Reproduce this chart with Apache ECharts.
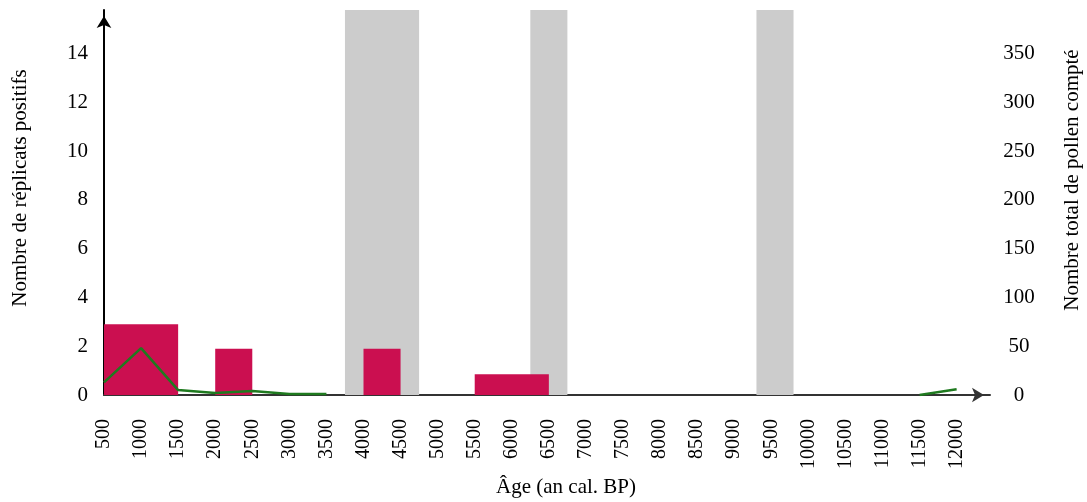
<!DOCTYPE html>
<html>
<head>
<meta charset="utf-8">
<script src="https://cdn.jsdelivr.net/npm/echarts@6/dist/echarts.min.js"></script>
<style>
html,body{margin:0;padding:0;background:#fff;}
#chart{width:1087px;height:502px;}
</style>
</head>
<body>
<div id="chart"></div>
<script>
// ---- data ----
var xTickLabels = ['500','1000','1500','2000','2500','3000','3500','4000','4500','5000','5500','6000','6500','7000','7500','8000','8500','9000','9500','10000','10500','11000','11500','12000'];
var leftTickLabels = ['0','2','4','6','8','10','12','14'];
var rightTickLabels = ['0','50','100','150','200','250','300','350'];

// positive replicates (bars spanning an age interval)
var barStart = [500, 2000, 4000, 5500];
var barEnd   = [1500, 2500, 4500, 6500];
var barValues = [2.9, 1.9, 1.9, 0.85];

// grey shaded periods
var bandStart = [3750, 6250, 9300];
var bandEnd   = [4750, 6750, 9800];

// total pollen counted
var pollenAges   = [500, 1000, 1500, 2000, 2500, 3000, 3500, 11500, 12000];
var pollenCounts = [13, 48, 5, 2, 4, 1, 1, 0, 6];

var leftMax = 15.78;
var rightMax = leftMax * 25;
var xMax = 12450;

// ---- build ----
var font = 'Liberation Serif';
var barData = barStart.map(function (s, i) { return [s, barEnd[i], barValues[i]]; });
var bandData = bandStart.map(function (s, i) { return [s, bandEnd[i]]; });
var lineData = [];
pollenAges.forEach(function (a, i) {
  if (i > 0 && a - pollenAges[i - 1] > 500) lineData.push([null, null]);
  lineData.push([a, pollenCounts[i]]);
});

var chart = echarts.init(document.getElementById('chart'), null, {renderer: 'canvas'});
chart.setOption({
  backgroundColor: '#ffffff',
  animation: false,
  grid: {left: 104, right: 97, top: 10, bottom: 107},
  xAxis: {
    type: 'value', min: 500, max: xMax, interval: 500,
    splitLine: {show: false},
    axisTick: {show: false},
    axisLine: {show: true, symbol: ['none', 'arrow'], symbolSize: [11, 12], symbolOffset: [0, -6],
      lineStyle: {color: '#333', width: 2}},
    axisLabel: {
      rotate: 90, margin: 24, color: '#000', fontFamily: font, fontSize: 20,
      formatter: function (v) { var s = String(v); return xTickLabels.indexOf(s) >= 0 ? s : ''; }
    }
  },
  yAxis: [{
    type: 'value', min: 0, max: leftMax, interval: 2,
    splitLine: {show: false},
    axisTick: {show: false},
    axisLine: {show: true, symbol: ['none', 'arrow'], symbolSize: [11, 12], symbolOffset: [0, -6],
      lineStyle: {color: '#000', width: 2}},
    axisLabel: {
      margin: 16, color: '#000', fontFamily: font, fontSize: 21,
      formatter: function (v) { var s = String(v); return leftTickLabels.indexOf(s) >= 0 ? s : ''; }
    }
  }, {
    type: 'value', min: 0, max: rightMax, interval: 50, position: 'right',
    splitLine: {show: false},
    axisTick: {show: false},
    axisLine: {show: false},
    axisLabel: {
      margin: 29, align: 'center', color: '#000', fontFamily: font, fontSize: 21,
      formatter: function (v) { var s = String(v); return rightTickLabels.indexOf(s) >= 0 ? s : ''; }
    }
  }],
  graphic: [
    {type: 'text', x: 20, y: 188, rotation: Math.PI / 2,
      style: {text: 'Nombre de réplicats positifs', fontFamily: font, fontSize: 21, fill: '#000', align: 'center', verticalAlign: 'middle'}},
    {type: 'text', x: 1072, y: 180, rotation: Math.PI / 2,
      style: {text: 'Nombre total de pollen compté', fontFamily: font, fontSize: 21, fill: '#000', align: 'center', verticalAlign: 'middle'}},
    {type: 'text', x: 566, y: 487,
      style: {text: 'Âge (an cal. BP)', fontFamily: font, fontSize: 21, fill: '#000', align: 'center', verticalAlign: 'middle'}}
  ],
  series: [{
    type: 'custom', name: 'bands', z: 1,
    data: bandData,
    encode: {x: [0, 1]},
    renderItem: function (params, api) {
      var p0 = api.coord([api.value(0), leftMax]);
      var p1 = api.coord([api.value(1), 0]);
      return {type: 'rect', shape: {x: p0[0], y: p0[1], width: p1[0] - p0[0], height: p1[1] - p0[1]},
        style: {fill: '#cccccc'}};
    }
  }, {
    type: 'custom', name: 'replicats', z: 2,
    data: barData,
    encode: {x: [0, 1], y: 2},
    renderItem: function (params, api) {
      var p0 = api.coord([api.value(0), api.value(2)]);
      var p1 = api.coord([api.value(1), 0]);
      return {type: 'rect', shape: {x: p0[0], y: p0[1], width: p1[0] - p0[0], height: p1[1] - p0[1]},
        style: {fill: '#cb0f50'}};
    }
  }, {
    type: 'line', name: 'pollen', yAxisIndex: 1, z: 3,
    data: lineData, connectNulls: false,
    showSymbol: false, symbol: 'none',
    lineStyle: {color: '#1f7a1f', width: 2.5}
  }]
});
</script>
</body>
</html>
